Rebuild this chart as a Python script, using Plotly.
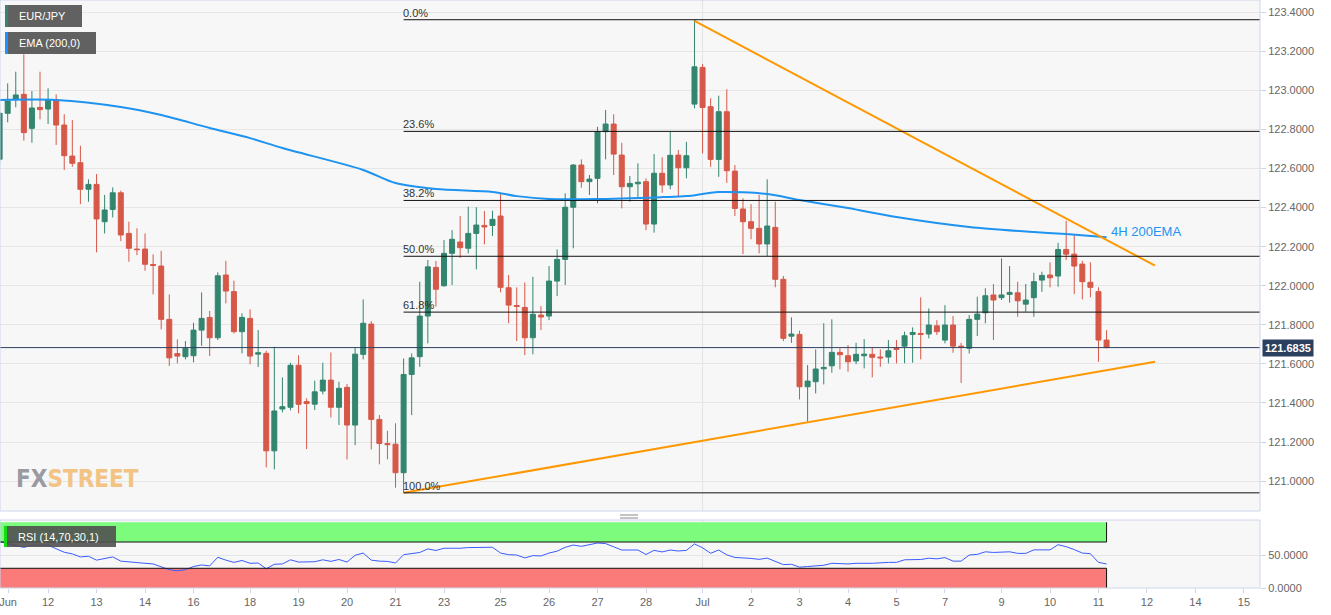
import plotly.graph_objects as go

# ---------------- data ----------------
opens = [122.648, 122.883, 122.955, 122.980, 122.806, 122.913, 122.905, 122.951, 122.823, 122.664,
         122.630, 122.494, 122.519, 122.328, 122.391, 122.476, 122.268, 122.188, 122.188, 122.109,
         122.101, 121.828, 121.653, 121.637, 121.642, 121.773, 121.838, 121.734, 122.055, 121.970,
         121.765, 121.833, 121.650, 121.654, 121.155, 121.369, 121.378, 121.593, 121.407, 121.394,
         121.461, 121.517, 121.378, 121.480, 121.287, 121.649, 121.804, 121.316, 121.192, 121.189,
         121.043, 121.546, 121.637, 121.845, 122.094, 122.000, 122.166, 122.224, 122.192, 122.268,
         122.309, 122.309, 122.357, 121.990, 121.899, 121.889, 121.734, 121.850, 121.845, 122.024,
         122.135, 122.402, 122.618, 122.533, 122.550, 122.789, 122.828, 122.669, 122.507, 122.522,
         122.533, 122.316, 122.576, 122.516, 122.669, 122.604, 122.930, 123.118, 122.917, 122.647,
         122.891, 122.587, 122.393, 122.328, 122.294, 122.214, 122.299, 122.033, 121.742, 121.751,
         121.483, 121.509, 121.575, 121.590, 121.659, 121.642, 121.615, 121.642, 121.649, 121.635,
         121.635, 121.680, 121.691, 121.751, 121.756, 121.753, 121.795, 121.722, 121.799, 121.691,
         121.680, 121.828, 121.862, 121.953, 121.939, 121.956, 121.964, 121.906, 121.939, 122.029,
         122.055, 122.050, 122.186, 122.162, 122.111, 122.018, 121.970, 121.722]
highs = [122.925, 123.036, 123.096, 123.185, 122.997, 123.096, 123.011, 122.980, 122.878, 122.849,
         122.717, 122.545, 122.572, 122.465, 122.504, 122.487, 122.328, 122.294, 122.268, 122.161,
         122.179, 121.956, 121.726, 121.717, 121.811, 121.966, 121.871, 122.069, 122.128, 122.026,
         121.859, 121.879, 121.773, 121.667, 121.688, 121.531, 121.606, 121.644, 121.424, 121.514,
         121.606, 121.659, 121.509, 121.497, 121.683, 121.930, 121.819, 121.338, 121.258, 121.296,
         121.628, 121.654, 122.021, 122.132, 122.127, 122.234, 122.285, 122.357, 122.405, 122.402,
         122.383, 122.384, 122.473, 122.055, 121.992, 122.017, 122.046, 121.896, 122.101, 122.186,
         122.473, 122.623, 122.647, 122.567, 122.814, 122.900, 122.878, 122.732, 122.562, 122.627,
         122.550, 122.674, 122.658, 122.789, 122.695, 122.737, 123.362, 123.135, 122.960, 122.973,
         123.006, 122.618, 122.448, 122.418, 122.465, 122.545, 122.430, 122.050, 121.838, 121.770,
         121.594, 121.674, 121.808, 121.828, 121.680, 121.696, 121.708, 121.727, 121.685, 121.674,
         121.722, 121.722, 121.765, 121.787, 121.941, 121.884, 121.824, 121.901, 121.845, 121.708,
         121.850, 121.944, 121.987, 122.009, 122.140, 122.101, 122.021, 122.009, 122.067, 122.072,
         122.120, 122.220, 122.333, 122.260, 122.128, 122.120, 121.992, 121.773]
lows = [122.618, 122.837, 122.914, 122.743, 122.732, 122.852, 122.828, 122.721, 122.593, 122.609,
        122.418, 122.430, 122.171, 122.268, 122.350, 122.229, 122.123, 122.157, 122.077, 121.956,
        121.777, 121.589, 121.603, 121.623, 121.608, 121.693, 121.640, 121.722, 121.910, 121.756,
        121.654, 121.598, 121.585, 121.070, 121.060, 121.352, 121.362, 121.347, 121.164, 121.364,
        121.444, 121.326, 121.287, 121.111, 121.184, 121.623, 121.162, 121.086, 121.111, 120.966,
        120.940, 121.338, 121.585, 121.705, 121.893, 121.995, 122.004, 122.143, 122.166, 122.084,
        122.212, 122.255, 121.966, 121.808, 121.717, 121.645, 121.649, 121.773, 121.824, 121.947,
        122.004, 122.192, 122.502, 122.465, 122.422, 122.647, 122.567, 122.396, 122.430, 122.448,
        122.285, 122.272, 122.476, 122.494, 122.456, 122.550, 122.908, 122.678, 122.609, 122.558,
        122.527, 122.357, 122.162, 122.238, 122.166, 122.152, 121.992, 121.717, 121.708, 121.418,
        121.304, 121.449, 121.495, 121.555, 121.572, 121.560, 121.599, 121.577, 121.531, 121.585,
        121.603, 121.603, 121.603, 121.606, 121.623, 121.731, 121.748, 121.705, 121.657, 121.503,
        121.654, 121.743, 121.808, 121.722, 121.927, 121.913, 121.841, 121.867, 121.841, 121.969,
        121.992, 121.995, 122.132, 121.958, 121.930, 121.941, 121.611, 121.680]
closes = [122.883, 122.946, 122.977, 122.784, 122.910, 122.902, 122.951, 122.823, 122.666, 122.627,
          122.494, 122.519, 122.342, 122.388, 122.476, 122.260, 122.192, 122.185, 122.110, 122.104,
          121.828, 121.631, 121.640, 121.680, 121.773, 121.833, 121.734, 122.051, 121.973, 121.765,
          121.838, 121.640, 121.657, 121.155, 121.359, 121.381, 121.593, 121.393, 121.397, 121.457,
          121.517, 121.378, 121.475, 121.287, 121.650, 121.808, 121.316, 121.193, 121.187, 121.043,
          121.546, 121.631, 121.845, 122.097, 121.982, 122.166, 122.238, 122.195, 122.268, 122.311,
          122.301, 122.340, 121.992, 121.901, 121.894, 121.734, 121.854, 121.840, 122.024, 122.135,
          122.402, 122.618, 122.533, 122.546, 122.789, 122.828, 122.674, 122.507, 122.524, 122.530,
          122.316, 122.576, 122.516, 122.668, 122.604, 122.666, 123.121, 122.913, 122.647, 122.891,
          122.589, 122.396, 122.328, 122.294, 122.214, 122.306, 122.033, 121.731, 121.753, 121.483,
          121.512, 121.574, 121.582, 121.659, 121.647, 121.611, 121.649, 121.650, 121.634, 121.631,
          121.667, 121.674, 121.744, 121.761, 121.751, 121.799, 121.765, 121.799, 121.691, 121.685,
          121.828, 121.855, 121.949, 121.927, 121.953, 121.966, 121.923, 121.927, 122.021, 122.053,
          122.041, 122.186, 122.162, 122.101, 122.021, 121.992, 121.722, 121.6835]
candle_idx = list(range(len(opens)))

ema_idx = [0, 7, 15, 20, 26, 31, 35, 45, 49, 54, 61, 64, 68, 74, 82, 85, 89, 95, 99, 105, 111, 120, 128, 132, 137]
ema_val = [122.951, 122.951, 122.915, 122.874, 122.808, 122.756, 122.705, 122.593, 122.526, 122.495,
           122.480, 122.459, 122.444, 122.444, 122.454, 122.459, 122.480, 122.470, 122.439, 122.398,
           122.352, 122.301, 122.275, 122.265, 122.249]

rsi_idx = [0, 3, 4, 6, 8, 9, 10, 11, 12, 13, 14, 15, 16, 17, 18, 19, 20, 21, 22, 23, 24, 25, 26, 27, 28,
           29, 30, 31, 32, 33, 34, 35, 36, 37, 39, 40, 41, 42, 43, 44, 45, 46, 47, 48, 49, 50, 52, 53,
           54, 55, 57, 58, 61, 62, 63, 64, 65, 66, 67, 68, 69, 70, 71, 72, 74, 75, 77, 79, 80, 81, 82,
           83, 84, 85, 86, 87, 88, 89, 90, 91, 93, 94, 95, 96, 97, 98, 99, 100, 101, 102, 103, 105,
           106, 108, 110, 111, 112, 113, 114, 115, 116, 117, 118, 119, 120, 121, 122, 123, 125, 126,
           127, 128, 129, 130, 131, 132, 133, 134, 135, 136, 137]
rsi_val = [70.5, 61.7, 65.1, 65.1, 54.4, 51.9, 47.3, 48.3, 42.4, 44.9, 47.3, 40.9, 39.5, 39.0, 37.6,
           36.6, 32.7, 27.8, 26.3, 27.8, 32.7, 35.1, 33.6, 46.8, 42.4, 39.0, 41.9, 37.6, 38.0, 29.3,
           36.1, 36.6, 42.9, 39.5, 40.0, 42.9, 40.5, 43.4, 39.5, 49.8, 53.2, 42.4, 40.9, 40.5, 38.0,
           50.7, 54.1, 59.5, 57.1, 60.5, 60.5, 61.5, 62.0, 53.2, 50.7, 50.2, 45.8, 49.3, 48.8, 53.2,
           56.1, 61.9, 65.4, 63.4, 68.5, 67.6, 57.8, 57.8, 51.0, 57.3, 54.9, 57.8, 56.3, 57.3, 67.1,
           61.2, 52.9, 57.8, 50.4, 46.5, 45.0, 43.6, 45.5, 40.2, 35.6, 36.1, 31.7, 32.7, 34.1, 34.6,
           37.6, 36.6, 37.6, 37.6, 39.0, 39.0, 42.9, 43.4, 43.4, 45.3, 44.4, 46.3, 40.9, 40.9, 50.2,
           51.2, 55.1, 54.1, 55.1, 52.7, 52.7, 58.0, 58.5, 58.0, 65.9, 62.9, 58.5, 53.2, 52.2, 39.0, 36.6]

tick_pos = [1.05, 6, 12, 18, 24, 31, 37, 43, 49, 55, 62, 68, 74, 80, 87, 93, 99, 105, 111, 117,
            124, 130, 136, 142, 148, 154]
tick_text = ["Jun", "12", "13", "14", "16", "18", "19", "20", "21", "23", "25", "26", "27", "28",
             "Jul", "2", "3", "4", "5", "7", "9", "10", "11", "12", "14", "15"]

fib_ratios = [0.0, 0.236, 0.382, 0.5, 0.618, 1.0]
fib_names = ["0.0%", "23.6%", "38.2%", "50.0%", "61.8%", "100.0%"]
swing_high_i, swing_low_i = 86, 50

down_x = [86, 143]
down_y = [123.356, 122.103]
up_x = [50, 143]
up_y = [120.940, 121.611]

last_price = closes[-1]
rsi_upper, rsi_lower = 70, 30

# ---------------- styling helpers ----------------
W, H = 1331, 615
ML, MR, MT, MB = 0, 71, 0, 27
PW, PH = W - ML - MR, H - MT - MB


def px(x):
    return x / PW


def py(y):
    return 1 - y / PH


GREEN = "#33856f"
RED = "#d65848"
ORANGE = "#ff9800"
BLUE = "#1e93f0"
GRID = "#e6e6e6"
BORDER = "#ccd6eb"

fig = go.Figure()

fig.add_trace(go.Candlestick(
    x=candle_idx, open=opens, high=highs, low=lows, close=closes,
    increasing=dict(line=dict(color=GREEN, width=1), fillcolor=GREEN),
    decreasing=dict(line=dict(color=RED, width=1), fillcolor=RED),
    whiskerwidth=0, xaxis="x", yaxis="y", hoverinfo="skip", showlegend=False))

fig.add_trace(go.Scatter(x=ema_idx, y=ema_val, mode="lines",
                         line=dict(color=BLUE, width=2, shape="spline", smoothing=0.8),
                         xaxis="x", yaxis="y", hoverinfo="skip", showlegend=False))
fig.add_trace(go.Scatter(x=down_x, y=down_y, mode="lines", line=dict(color=ORANGE, width=2),
                         xaxis="x", yaxis="y", hoverinfo="skip", showlegend=False))
fig.add_trace(go.Scatter(x=up_x, y=up_y, mode="lines", line=dict(color=ORANGE, width=2),
                         xaxis="x", yaxis="y", hoverinfo="skip", showlegend=False))
fig.add_trace(go.Scatter(x=rsi_idx, y=rsi_val, mode="lines", line=dict(color="#3a5cff", width=1),
                         xaxis="x", yaxis="y2", hoverinfo="skip", showlegend=False))

shapes = []
annotations = []

last_i = candle_idx[-1]
# RSI zones
shapes.append(dict(type="rect", xref="x", yref="y2", x0=-2, x1=last_i, y0=rsi_upper, y1=100,
                   fillcolor="#7dfb7d", line=dict(width=0), layer="below"))
shapes.append(dict(type="rect", xref="x", yref="y2", x0=-2, x1=last_i, y0=0, y1=rsi_lower,
                   fillcolor="#fb7b7b", line=dict(width=0), layer="below"))
for lv in (rsi_upper, rsi_lower):
    shapes.append(dict(type="line", xref="x", yref="y2", x0=-2, x1=last_i, y0=lv, y1=lv,
                       line=dict(color="#111", width=1)))
shapes.append(dict(type="line", xref="x", yref="y2", x0=last_i, x1=last_i, y0=rsi_upper, y1=100,
                   line=dict(color="#111", width=1)))
shapes.append(dict(type="line", xref="x", yref="y2", x0=last_i, x1=last_i, y0=0, y1=rsi_lower,
                   line=dict(color="#111", width=1)))

# month separator
for yr in ("y domain", "y2 domain"):
    shapes.append(dict(type="line", xref="x", yref=yr, x0=87, x1=87, y0=0, y1=1,
                       line=dict(color="#e2e2e2", width=1), layer="below"))

# Fibonacci retracement
fib_hi = highs[swing_high_i]
fib_lo = lows[swing_low_i]
for r, name in zip(fib_ratios, fib_names):
    lv = fib_hi - r * (fib_hi - fib_lo)
    shapes.append(dict(type="line", xref="x", yref="y", x0=swing_low_i, x1=156, y0=lv, y1=lv,
                       line=dict(color="#111", width=1)))
    annotations.append(dict(x=swing_low_i, y=lv, xref="x", yref="y", text=name, showarrow=False,
                            xanchor="left", yanchor="bottom", xshift=-3, yshift=-1,
                            font=dict(size=11, color="#333", family="Liberation Sans, Arial")))

# last price line
shapes.append(dict(type="line", xref="paper", yref="y", x0=0, x1=1, y0=last_price, y1=last_price,
                   line=dict(color="#2d4160", width=1)))

# panel borders
for yr in ("y domain", "y2 domain"):
    shapes.append(dict(type="rect", xref="paper", yref=yr, x0=0, x1=1, y0=0, y1=1,
                       line=dict(color=BORDER, width=1), fillcolor="rgba(0,0,0,0)"))

# resize handle
for yy in (515, 518):
    shapes.append(dict(type="line", xref="paper", yref="paper", x0=px(620), x1=px(638),
                       y0=py(yy), y1=py(yy), line=dict(color="#888", width=1)))

# legend boxes
boxes = [
    (5, 82, 5, 27, GREEN, "EUR/JPY"),
    (5, 96, 32, 54, "#1e90ff", "EMA (200,0)"),
    (4, 116, 526, 547, "#11dd11", "RSI (14,70,30,1)"),
]
for x0, x1, y0, y1, col, txt in boxes:
    shapes.append(dict(type="rect", xref="paper", yref="paper", x0=px(x0), x1=px(x1),
                       y0=py(y1), y1=py(y0), fillcolor="rgba(80,80,80,0.9)", line=dict(width=0)))
    shapes.append(dict(type="rect", xref="paper", yref="paper", x0=px(x0), x1=px(x0 + 3),
                       y0=py(y1), y1=py(y0), fillcolor=col, line=dict(width=0)))
    annotations.append(dict(x=px(x0 + 12), y=py((y0 + y1) / 2), xref="paper", yref="paper",
                            text=txt, showarrow=False, xanchor="left", yanchor="middle",
                            font=dict(size=11, color="white", family="Liberation Sans, Arial")))

# EMA label
annotations.append(dict(x=last_i, y=ema_val[-1], xref="x", yref="y", text="4H 200EMA",
                        showarrow=False, xanchor="left", yanchor="middle", xshift=2, yshift=6,
                        font=dict(size=13, color=BLUE, family="Liberation Sans, Arial")))

# price tag
annotations.append(dict(x=1, y=last_price, xref="paper", yref="y", text="<b>121.6835</b>",
                        showarrow=False, xanchor="left", yanchor="middle", xshift=2,
                        bgcolor="#2b3f5f", borderpad=2,
                        font=dict(size=11, color="white", family="Liberation Sans, Arial")))

# watermark
annotations.append(dict(x=px(14), y=py(479), xref="paper", yref="paper",
                        text="<b>FX<span style='color:#f2c383'>STREET</span></b>",
                        showarrow=False, xanchor="left", yanchor="middle",
                        font=dict(size=24, color="#9a9aa2",
                                  family="DejaVu Sans Condensed, Liberation Sans Narrow, Liberation Sans, sans-serif")))

main_bottom = 1 - 511 / PH
rsi_top = 1 - 520 / PH

fig.update_layout(
    width=W, height=H,
    margin=dict(l=ML, r=MR, t=MT, b=MB),
    paper_bgcolor="white", plot_bgcolor="#f7f7f7",
    showlegend=False,
    boxgap=0.3, boxgroupgap=0.12,
    font=dict(family="Liberation Sans, Arial", size=11, color="#666"),
    xaxis=dict(domain=[0, 1], range=[0.0495, 155.99], anchor="y2", type="linear",
               tickmode="array", tickvals=tick_pos, ticktext=tick_text,
               ticklabeloverflow="allow",
               showgrid=False, zeroline=False, showline=False,
               ticks="outside", ticklen=4, tickcolor=BORDER,
               tickfont=dict(size=11, color="#666"), rangeslider=dict(visible=False)),
    yaxis=dict(domain=[main_bottom, 1], range=[120.847, 123.463], side="right", anchor="x",
               tick0=121.0, dtick=0.2, tickformat=".4f", showgrid=True, gridcolor=GRID,
               zeroline=False, ticks="outside", ticklen=5, tickcolor=BORDER,
               tickfont=dict(size=11, color="#666")),
    yaxis2=dict(domain=[0, rsi_top], range=[0, 103.5], side="right", anchor="x",
                tickmode="array", tickvals=[0, 50], ticktext=["0.0000", "50.0000"],
                showgrid=True, gridcolor=GRID, zeroline=False, ticks="outside", ticklen=5,
                tickcolor=BORDER, tickfont=dict(size=11, color="#666")),
    shapes=shapes, annotations=annotations,
)

fig.write_html("out.html", config={"displayModeBar": False},
               post_script="document.body.style.margin='0px';")
